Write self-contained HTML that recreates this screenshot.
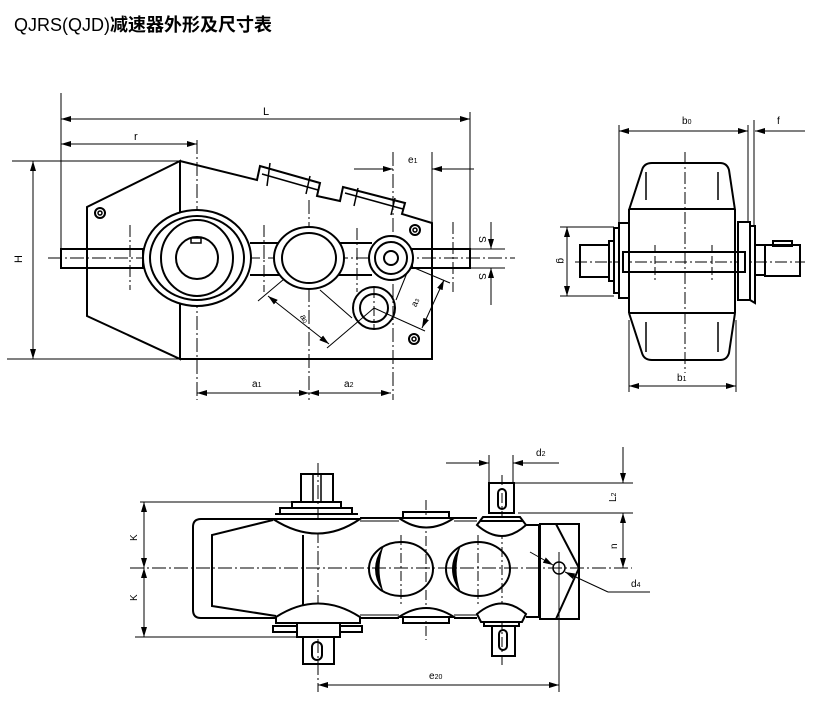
<!DOCTYPE html>
<html><head><meta charset="utf-8"><style>
body{margin:0;background:#fff}
svg{display:block}
text{font-family:"Liberation Sans",sans-serif;fill:#000}
</style></head><body>
<svg width="825" height="702" viewBox="0 0 825 702" xmlns="http://www.w3.org/2000/svg">
<defs>
<marker id="a" viewBox="0 0 10 6" refX="10" refY="3" markerWidth="10" markerHeight="6" orient="auto-start-reverse" markerUnits="userSpaceOnUse"><path d="M0,0L10,3L0,6z" fill="#000"/></marker>
</defs>
<text x="14" y="31" font-size="18" font-weight="bold" style="font-family:'Liberation Sans','Noto Sans CJK SC',sans-serif;font-weight:normal">QJRS(QJD)<tspan font-weight="bold">减速器外形及尺寸表</tspan></text>

<!-- ========== FRONT VIEW ========== -->
<g fill="none" stroke="#000" stroke-width="1">
<line x1="61" y1="93" x2="61" y2="268"/>
<line x1="470" y1="112" x2="470" y2="258"/>
<line x1="197" y1="140" x2="197" y2="400" stroke-dasharray="14,3,2,3"/>
<line x1="12" y1="161" x2="180" y2="161"/>
<line x1="7" y1="359" x2="180" y2="359"/>
<line x1="309" y1="200" x2="309" y2="400" stroke-dasharray="14,3,2,3"/>
<line x1="393" y1="152" x2="393" y2="400" stroke-dasharray="14,3,2,3"/>
<line x1="432" y1="152" x2="432" y2="223"/>
<line x1="61" y1="119" x2="470" y2="119" marker-start="url(#a)" marker-end="url(#a)"/>
<line x1="61" y1="144" x2="197" y2="144" marker-start="url(#a)" marker-end="url(#a)"/>
<line x1="33" y1="161" x2="33" y2="359" marker-start="url(#a)" marker-end="url(#a)"/>
<line x1="197" y1="393" x2="309" y2="393" marker-start="url(#a)" marker-end="url(#a)"/>
<line x1="309" y1="393" x2="391" y2="393" marker-start="url(#a)" marker-end="url(#a)"/>
<line x1="354" y1="169" x2="393" y2="169" marker-end="url(#a)"/>
<line x1="474" y1="169" x2="432" y2="169" marker-end="url(#a)"/>
<line x1="470" y1="249" x2="505" y2="249"/>
<line x1="470" y1="268" x2="505" y2="268"/>
<line x1="491" y1="222" x2="491" y2="249" marker-end="url(#a)"/>
<line x1="491" y1="305" x2="491" y2="268" marker-end="url(#a)"/>
<line x1="48" y1="258" x2="515" y2="258" stroke-dasharray="14,3,2,3"/>
<line x1="130" y1="225" x2="130" y2="290" stroke-dasharray="12,3,2,3"/>
<line x1="264" y1="225" x2="264" y2="292" stroke-dasharray="12,3,2,3"/>
<line x1="357" y1="228" x2="357" y2="292" stroke-dasharray="12,3,2,3"/>
<line x1="453" y1="222" x2="453" y2="292" stroke-dasharray="12,3,2,3"/>
<line x1="374" y1="288" x2="374" y2="330" stroke-dasharray="10,3,2,3"/>
<line x1="309" y1="258" x2="258" y2="301"/>
<line x1="374" y1="308" x2="327" y2="348"/>
<line x1="320" y1="290" x2="352" y2="318"/>
<line x1="268" y1="296" x2="329" y2="344" marker-start="url(#a)" marker-end="url(#a)"/>
<line x1="391" y1="258" x2="450" y2="283"/>
<line x1="374" y1="308" x2="425" y2="331"/>
<line x1="409" y1="268" x2="396" y2="300"/>
<line x1="444" y1="280" x2="422" y2="328" marker-start="url(#a)" marker-end="url(#a)"/>
</g>
<g fill="none" stroke="#000" stroke-width="2">
<path d="M180,161 L87,207 L87,316 L180,359 Z"/>
<path d="M180,161 L257,180 L260,166 L320,183 L317,196 L340,201 L343,187 L405,203 L402,214 L432,223 L432,359 L180,359"/>
<line x1="262" y1="174" x2="318" y2="190" stroke-width="1.5"/>
<line x1="345" y1="193" x2="403" y2="209" stroke-width="1.5"/>
<line x1="270" y1="163" x2="267" y2="186" stroke-width="1.5"/>
<line x1="310" y1="176" x2="306" y2="194" stroke-width="1.5"/>
<line x1="358" y1="188" x2="354" y2="206" stroke-width="1.5"/>
<line x1="395" y1="198" x2="391" y2="215" stroke-width="1.5"/>
<rect x="61" y="249" width="82" height="19"/>
<rect x="412" y="249" width="58" height="19"/>
<line x1="250" y1="243" x2="372" y2="243"/>
<line x1="250" y1="275" x2="372" y2="275"/>
<ellipse cx="197" cy="258" rx="54" ry="48" fill="#fff"/>
<ellipse cx="197" cy="258" rx="47" ry="42"/>
<ellipse cx="197" cy="258" rx="36" ry="38"/>
<ellipse cx="197" cy="258" rx="21" ry="21"/>
<rect x="191" y="238" width="10" height="5" stroke-width="1.5"/>
<ellipse cx="309" cy="258" rx="35" ry="31" fill="#fff"/>
<ellipse cx="309" cy="258" rx="27" ry="25"/>
<circle cx="391" cy="258" r="22" fill="#fff"/>
<circle cx="391" cy="258" r="16"/>
<circle cx="391" cy="258" r="7"/>
<circle cx="374" cy="308" r="21"/>
<circle cx="374" cy="308" r="14"/>
<circle cx="100" cy="213" r="5"/><circle cx="100" cy="213" r="2" stroke-width="1.5"/>
<circle cx="415" cy="230" r="5"/><circle cx="415" cy="230" r="2" stroke-width="1.5"/>
<circle cx="414" cy="339" r="5"/><circle cx="414" cy="339" r="2" stroke-width="1.5"/>
</g>
<g font-size="11">
<text x="263" y="115">L</text>
<text x="134" y="140">r</text>
<text x="14" y="263" transform="rotate(-90 18 259)">H</text>
<text x="252" y="387" font-size="10">a<tspan font-size="7">1</tspan></text>
<text x="344" y="387" font-size="10">a<tspan font-size="7">2</tspan></text>
<text x="408" y="163" font-size="10">e<tspan font-size="7">1</tspan></text>
<text x="300" y="320" font-size="9" transform="rotate(60 303 318)">a<tspan font-size="6">0</tspan></text>
<text x="412" y="305" font-size="9" transform="rotate(-65 416 303)">a<tspan font-size="6">3</tspan></text>
<text x="478" y="243" font-size="10" transform="rotate(90 482 240)">S</text>
<text x="478" y="280" font-size="10" transform="rotate(90 482 277)">S</text>
</g>

<!-- ========== SIDE VIEW ========== -->
<g fill="none" stroke="#000" stroke-width="1">
<line x1="619" y1="125" x2="619" y2="222"/>
<line x1="748" y1="125" x2="748" y2="222"/>
<line x1="754" y1="120" x2="754" y2="225"/>
<line x1="619" y1="131" x2="748" y2="131" marker-start="url(#a)" marker-end="url(#a)"/>
<line x1="805" y1="131" x2="755" y2="131" marker-end="url(#a)"/>
<line x1="629" y1="320" x2="629" y2="392"/>
<line x1="736" y1="320" x2="736" y2="392"/>
<line x1="629" y1="386" x2="736" y2="386" marker-start="url(#a)" marker-end="url(#a)"/>
<line x1="560" y1="227" x2="614" y2="227"/>
<line x1="560" y1="296" x2="614" y2="296"/>
<line x1="567" y1="227" x2="567" y2="296" marker-start="url(#a)" marker-end="url(#a)"/>
<line x1="685" y1="152" x2="685" y2="373" stroke-dasharray="12,3,2,3"/>
<line x1="575" y1="262" x2="805" y2="262" stroke-dasharray="12,3,2,3"/>
<line x1="655" y1="245" x2="655" y2="280" stroke-dasharray="8,3"/>
<line x1="712" y1="245" x2="712" y2="280" stroke-dasharray="8,3"/>
</g>
<g fill="none" stroke="#000" stroke-width="2">
<path d="M629,210 L642,170 Q644,163 652,163 L720,163 Q727,163 729,170 L735,210"/>
<line x1="629" y1="209" x2="735" y2="209"/>
<line x1="629" y1="209" x2="629" y2="313"/>
<line x1="735" y1="209" x2="735" y2="313"/>
<line x1="629" y1="313" x2="735" y2="313"/>
<path d="M629,313 L642,353 Q644,360 652,360 L720,360 Q727,360 729,353 L735,313"/>
<line x1="646" y1="172" x2="646" y2="200" stroke-width="1.5"/>
<line x1="718" y1="172" x2="718" y2="200" stroke-width="1.5"/>
<line x1="646" y1="322" x2="646" y2="352" stroke-width="1.5"/>
<line x1="718" y1="322" x2="718" y2="352" stroke-width="1.5"/>
<rect x="619" y="223" width="10" height="75" fill="#fff"/>
<rect x="614" y="228" width="5" height="65"/>
<rect x="609" y="241" width="5" height="40"/>
<rect x="580" y="245" width="29" height="32"/>
<rect x="738" y="222" width="12" height="78" fill="#fff"/>
<path d="M750,226 L755,226 L755,303 L750,300"/>
<rect x="755" y="245" width="10" height="30"/>
<rect x="765" y="245" width="35" height="31"/>
<rect x="773" y="241" width="19" height="5"/>
<rect x="623" y="252" width="122" height="20" fill="none"/>
</g>
<g font-size="10">
<text x="682" y="124">b<tspan font-size="7">0</tspan></text>
<text x="777" y="124">f</text>
<text x="677" y="381">b<tspan font-size="7">1</tspan></text>
<text x="558" y="266" transform="rotate(90 562 262)">g</text>
</g>

<!-- ========== TOP VIEW ========== -->
<g fill="none" stroke="#000" stroke-width="1">
<line x1="130" y1="568" x2="632" y2="568" stroke-dasharray="14,3,2,3"/>
<line x1="318" y1="463" x2="318" y2="692" stroke-dasharray="14,3,2,3"/>
<line x1="426" y1="500" x2="426" y2="640" stroke-dasharray="10,3,2,3"/>
<line x1="401" y1="535" x2="401" y2="605" stroke-dasharray="10,3,2,3"/>
<line x1="478" y1="535" x2="478" y2="605" stroke-dasharray="10,3,2,3"/>
<line x1="502" y1="475" x2="502" y2="665" stroke-dasharray="10,3,2,3"/>
<line x1="559" y1="552" x2="559" y2="692"/>
<line x1="140" y1="502" x2="292" y2="502"/>
<line x1="135" y1="637" x2="297" y2="637"/>
<line x1="144" y1="502" x2="144" y2="568" marker-start="url(#a)" marker-end="url(#a)"/>
<line x1="144" y1="568" x2="144" y2="637" marker-start="url(#a)" marker-end="url(#a)"/>
<line x1="318" y1="685" x2="559" y2="685" marker-start="url(#a)" marker-end="url(#a)"/>
<line x1="489" y1="455" x2="489" y2="483"/>
<line x1="513" y1="455" x2="513" y2="483"/>
<line x1="446" y1="463" x2="489" y2="463" marker-end="url(#a)"/>
<line x1="559" y1="463" x2="513" y2="463" marker-end="url(#a)"/>
<line x1="514" y1="483" x2="633" y2="483"/>
<line x1="518" y1="513" x2="633" y2="513"/>
<line x1="623" y1="447" x2="623" y2="483" marker-end="url(#a)"/>
<line x1="623" y1="513" x2="623" y2="568" marker-start="url(#a)" marker-end="url(#a)"/>
<line x1="530" y1="552" x2="553" y2="565" marker-end="url(#a)"/>
<line x1="608" y1="592" x2="650" y2="592"/>
<line x1="608" y1="592" x2="565" y2="572" marker-end="url(#a)"/>
</g>
<g fill="none" stroke="#000" stroke-width="2">
<path d="M273,519 L201,519 Q193,519 193,527 L193,610 Q193,618 201,618 L276,618"/>
<path d="M273,520 L212,535 L212,606 L276,616"/>
<line x1="303" y1="535" x2="303" y2="605"/>
<line x1="360" y1="518" x2="399" y2="518"/><line x1="360" y1="521" x2="399" y2="521" stroke-width="1"/>
<line x1="454" y1="518" x2="477" y2="518"/><line x1="454" y1="521" x2="477" y2="521" stroke-width="1"/>
<line x1="360" y1="618" x2="399" y2="618"/><line x1="360" y1="615" x2="399" y2="615" stroke-width="1"/>
<line x1="454" y1="618" x2="477" y2="618"/><line x1="454" y1="615" x2="477" y2="615" stroke-width="1"/>
<path d="M526,525 L539,525 L539,617 L526,617"/>
<rect x="540" y="524" width="39" height="95"/>
<path d="M556,524 L579,568 L556,619"/>
<path d="M273,519 L360,519 Q318,548 273,519 Z" fill="#fff"/>
<rect x="280" y="508" width="72" height="6"/>
<rect x="292" y="502" width="49" height="6"/>
<rect x="301" y="474" width="32" height="28"/>
<line x1="313" y1="474" x2="313" y2="502" stroke-width="1.5"/>
<line x1="321" y1="474" x2="321" y2="502" stroke-width="1.5"/>
<line x1="275" y1="514" x2="358" y2="514"/>
<path d="M276,617 Q318,590 360,617 L360,623 L276,623 Z" fill="#fff"/>
<rect x="273" y="626" width="89" height="6"/>
<rect x="297" y="623" width="43" height="14" fill="#fff"/>
<rect x="303" y="637" width="31" height="27"/>
<rect x="312" y="642" width="10" height="18" rx="5"/>
<path d="M399,518 L454,518 Q426,537 399,518 Z" fill="#fff"/>
<rect x="403" y="512" width="46" height="6"/>
<path d="M399,617 Q426,599 454,617 Z" fill="#fff"/>
<rect x="403" y="617" width="46" height="6"/>
<path d="M477,525 L483,517 L520,517 L526,525 Q502,547 477,525 Z" fill="#fff"/>
<line x1="480" y1="521" x2="523" y2="521"/>
<rect x="489" y="483" width="25" height="30"/>
<rect x="498" y="489" width="8" height="20" rx="4"/>
<path d="M477,614 Q502,593 526,614 L522,622 L481,622 Z" fill="#fff"/>
<rect x="484" y="622" width="35" height="4"/>
<rect x="492" y="626" width="23" height="30"/>
<rect x="499" y="630" width="8" height="20" rx="4"/>
<ellipse cx="401" cy="569" rx="32" ry="27"/>
<ellipse cx="478" cy="569" rx="32" ry="27"/>
<circle cx="559" cy="568" r="6" stroke-width="1.5"/>
</g>
<path d="M384,545 Q366,569 384,593 Q375,569 384,545 Z" fill="#000"/>
<path d="M461,545 Q443,569 461,593 Q452,569 461,545 Z" fill="#000"/>
<g font-size="10">
<text x="129" y="541" transform="rotate(-90 133 537)">K</text>
<text x="129" y="601" transform="rotate(-90 133 597)">K</text>
<text x="536" y="456">d<tspan font-size="7">2</tspan></text>
<text x="608" y="502" transform="rotate(-90 612 498)">L<tspan font-size="7">2</tspan></text>
<text x="609" y="549" transform="rotate(-90 613 545)">n</text>
<text x="631" y="587">d<tspan font-size="7">4</tspan></text>
<text x="429" y="679">e<tspan font-size="7">20</tspan></text>
</g>
</svg>
</body></html>
